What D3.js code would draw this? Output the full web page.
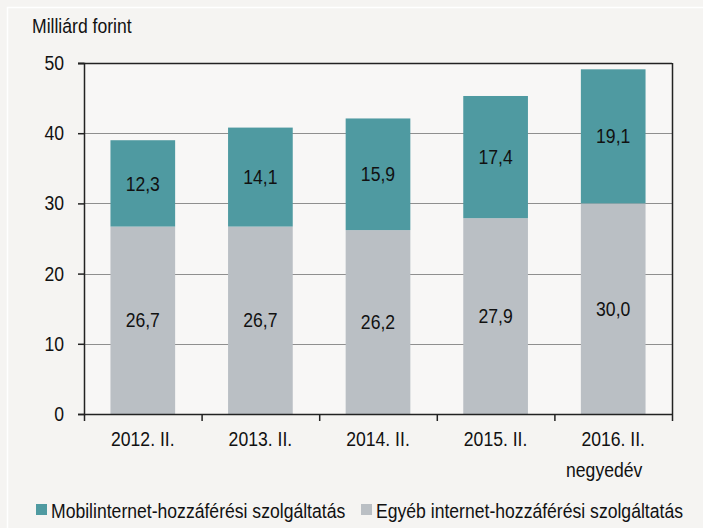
<!DOCTYPE html>
<html>
<head>
<meta charset="utf-8">
<script src="https://cdn.jsdelivr.net/npm/d3@7"></script>
<style>
  body { margin: 0; background: #f5f4f2; }
  svg { display: block; font-family: "Liberation Sans", Arial, sans-serif; }
  /* the source font is narrow and tall: stretch text a bit vertically */
  svg text { transform-box: fill-box; transform-origin: 50% 50%; transform: scaleY(1.13); }
</style>
</head>
<body>
<svg class="chart"></svg>
<script>
const categories = ["2012. II.", "2013. II.", "2014. II.", "2015. II.", "2016. II."];
const egyeb = [26.7, 26.7, 26.2, 27.9, 30.0];
const mobil = [12.3, 14.1, 15.9, 17.4, 19.1];
const yTicks = [0, 10, 20, 30, 40, 50];
const seriesNames = ["Mobilinternet-hozzáférési szolgáltatás", "Egyéb internet-hozzáférési szolgáltatás"];

const width = 703, height = 528;
const margin = {top: 63, right: 31, bottom: 114, left: 84};
const fs = 17.6;
const fmt = v => d3.format(".1f")(v).replace(".", ",");
const teal = "#4f9aa1", grey = "#babfc4";

const svg = d3.select(".chart").attr("width", width).attr("height", height);

svg.append("rect").attr("x", 7.5).attr("y", 7.5).attr("width", 800).attr("height", 800)
    .attr("fill", "none").attr("stroke", "#fff").attr("stroke-width", 1.5);

const x = d3.scaleBand().domain(categories)
    .range([margin.left, width - margin.right]).paddingInner(0.45).paddingOuter(0.225);
const y = d3.scaleLinear().domain([0, 50]).range([height - margin.bottom, margin.top]);

svg.append("rect").attr("x", margin.left).attr("y", margin.top)
    .attr("width", width - margin.right - margin.left).attr("height", y(0) - margin.top)
    .attr("fill", "#f8f7f6");

// gridlines
svg.append("g").selectAll("line").data(yTicks.filter(d => d > 0 && d < 50)).join("line")
    .attr("x1", margin.left).attr("x2", width - margin.right)
    .attr("y1", d => Math.round(y(d)) + 0.5).attr("y2", d => Math.round(y(d)) + 0.5)
    .attr("stroke", "#8f8f8f").attr("stroke-width", 1);

const rows = categories.map((c, i) => ({c, egyeb: egyeb[i], mobil: mobil[i]}));

const bars = svg.append("g").selectAll("g").data(rows).join("g");
bars.append("rect").attr("x", d => x(d.c)).attr("width", x.bandwidth())
    .attr("y", d => y(d.egyeb)).attr("height", d => y(0) - y(d.egyeb)).attr("fill", grey);
bars.append("rect").attr("x", d => x(d.c)).attr("width", x.bandwidth())
    .attr("y", d => y(d.egyeb + d.mobil)).attr("height", d => y(d.egyeb) - y(d.egyeb + d.mobil)).attr("fill", teal);
bars.append("text").attr("x", d => x(d.c) + x.bandwidth() / 2).attr("y", d => y(d.egyeb / 2))
    .attr("dy", "0.36em").attr("text-anchor", "middle").attr("font-size", fs).attr("fill", "#111")
    .text(d => fmt(d.egyeb));
bars.append("text").attr("x", d => x(d.c) + x.bandwidth() / 2).attr("y", d => y(d.egyeb + d.mobil / 2))
    .attr("dy", "0.36em").attr("text-anchor", "middle").attr("font-size", fs).attr("fill", "#111")
    .text(d => fmt(d.mobil));

// frame: top and right
svg.append("line").attr("x1", margin.left - 6).attr("x2", width - margin.right)
    .attr("y1", y(50) + 0.5).attr("y2", y(50) + 0.5).attr("stroke", "#222").attr("stroke-width", 1.5);
svg.append("line").attr("x1", width - margin.right + 0.5).attr("x2", width - margin.right + 0.5)
    .attr("y1", y(50)).attr("y2", y(0)).attr("stroke", "#222").attr("stroke-width", 1.5);

// y axis
const yAxis = svg.append("g").attr("transform", `translate(${margin.left},0)`)
    .call(d3.axisLeft(y).tickValues(yTicks).tickSize(6).tickPadding(14).tickFormat(d => d));
yAxis.select(".domain").attr("stroke", "#222").attr("stroke-width", 1.5);
yAxis.selectAll(".tick line").attr("stroke", "#222").attr("stroke-width", 1.5);
yAxis.selectAll("text").attr("font-size", fs).attr("font-family", null).attr("fill", "#111");

// x axis
const xAxis = svg.append("g").attr("transform", `translate(0,${y(0)})`)
    .call(d3.axisBottom(x).tickSize(0).tickPadding(19));
xAxis.select(".domain").attr("stroke", "#222").attr("stroke-width", 1.5);
xAxis.selectAll("text").attr("font-size", fs).attr("font-family", null).attr("fill", "#111");
const bounds = categories.map(c => x(c) - x.step() * x.paddingInner() / 2).concat([width - margin.right]);
bounds[0] = margin.left;
xAxis.append("g").selectAll("line").data(bounds).join("line")
    .attr("x1", d => d + 0.5).attr("x2", d => d + 0.5).attr("y1", 0).attr("y2", 7)
    .attr("stroke", "#222").attr("stroke-width", 1.5);

svg.append("text").attr("x", x(categories[4]) + x.bandwidth() / 2 - 9).attr("y", 476)
    .attr("text-anchor", "middle").attr("font-size", fs).attr("fill", "#111").text("negyedév");

svg.append("text").attr("x", 32).attr("y", 32).attr("font-size", fs).attr("fill", "#111")
    .text("Milliárd forint");

// legend
const legend = svg.append("g").attr("transform", "translate(36,517)");
const lx = [0, 325];
[teal, grey].forEach((col, i) => {
  const g = legend.append("g").attr("transform", `translate(${lx[i]},0)`);
  g.append("rect").attr("x", 0).attr("y", -13).attr("width", 11).attr("height", 11).attr("fill", col);
  g.append("text").attr("x", 15).attr("y", 0).attr("font-size", fs).attr("fill", "#111").text(seriesNames[i]);
});
</script>
</body>
</html>
